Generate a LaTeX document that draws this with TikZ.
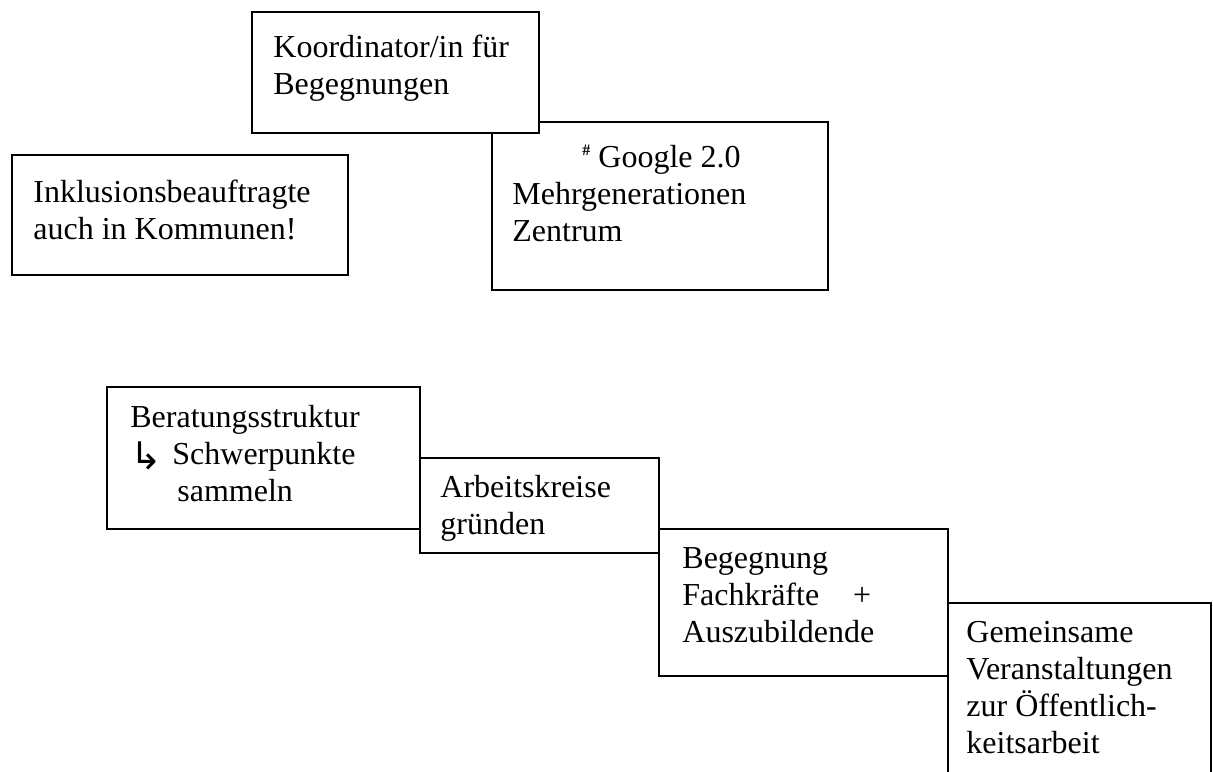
\documentclass[tikz,border=0pt]{standalone}
\usepackage{fontspec}
\setmainfont{Liberation Serif}
\newfontfamily\symfont{DejaVu Sans}
\usetikzlibrary{fit}
\tikzset{
  box/.style={draw=black, line width=1.25pt, fill=white, inner sep=0pt, rectangle},
  boxtext/.style={anchor=north west, inner sep=0pt, align=left,
    font=\fontsize{16}{18.5}\selectfont},
}
\begin{document}
\begin{tikzpicture}[x=0.5pt,y=-0.5pt]
\clip (0,0) rectangle (1213,771);
\fill[white] (0,0) rectangle (1213,771);
% upper group
\node[box, fit={(492,122) (828,290)}] (b) {};
\node[box, fit={(252,12) (539,133)}] (a) {};
\node[box, fit={(12,155) (348,275)}] (c) {};
\node[boxtext] (at) at (273,31.1) {\strut Koordinator/in für\\Begegnungen};
\node[boxtext] (bt) at (512,141.1) {\strut\hspace{35pt}\raisebox{6pt}{\fontsize{8}{8}\selectfont\textbf{\#}} Google 2.0\\Mehrgenerationen\\Zentrum};
\node[boxtext] (ct) at (33,176.1) {\strut Inklusionsbeauftragte\\auch in Kommunen!};
% staircase
\node[box, fit={(420,458) (659,553)}] (e) {};
\node[box, fit={(107,387) (420,529)}] (d) {};
\node[box, fit={(659,529) (948,676)}] (f) {};
\node[box, fit={(948,603) (1211,800)}] (g) {};
\node[boxtext] (dt) at (130,401.1) {\strut Beratungsstruktur\\\makebox[21pt][l]{\raisebox{-2.5pt}{\symfont\fontsize{19}{19}\selectfont ↳}}Schwerpunkte\\\hspace{23.5pt}sammeln};
\node[boxtext] (et) at (440,471.1) {\strut Arbeitskreise\\gründen};
\node[boxtext] (ft) at (682,542.1) {\strut Begegnung\\Fachkräfte\hspace{17pt}+\\Auszubildende};
\node[boxtext] (gt) at (966,616.1) {\strut Gemeinsame\\Veranstaltungen\\zur Öffentlich-\\keitsarbeit};
\end{tikzpicture}
\end{document}
